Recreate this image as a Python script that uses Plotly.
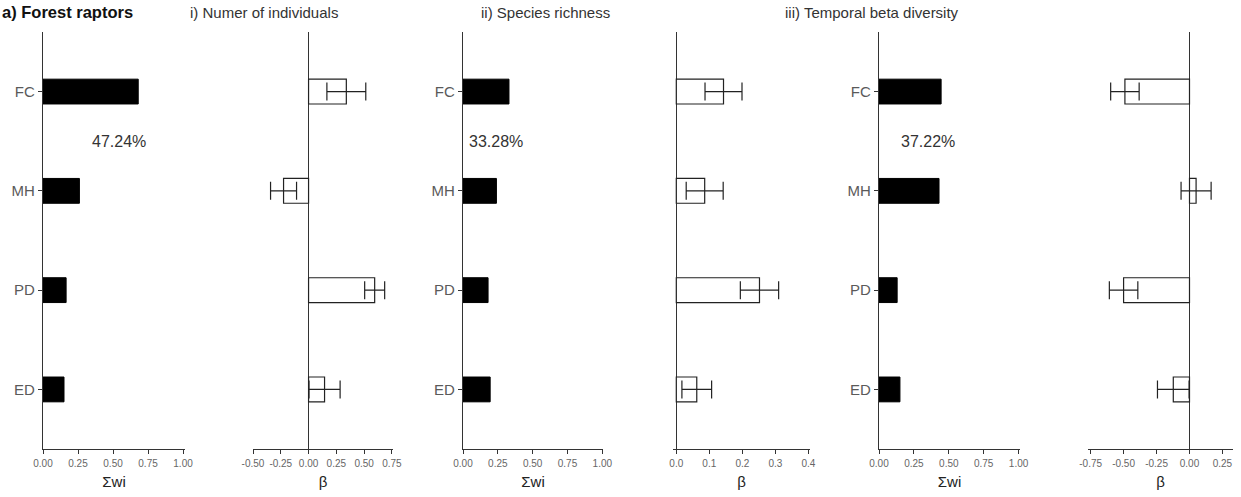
import plotly.graph_objects as go

W, H = 1241, 497

# ---- data ----
categories = ["FC", "MH", "PD", "ED"]
panel_titles = ["i) Numer of individuals", "ii) Species richness", "iii) Temporal beta diversity"]
percent_labels = ["47.24%", "33.28%", "37.22%"]

# Sum of Akaike weights (Σwi)
sw_individuals = [0.68, 0.26, 0.165, 0.15]
sw_richness = [0.33, 0.24, 0.18, 0.195]
sw_beta = [0.445, 0.43, 0.13, 0.15]

# Model-averaged coefficients (β) and their errors
beta_individuals = [0.34, -0.225, 0.595, 0.144]
err_individuals = [0.175, 0.117, 0.09, 0.14]
beta_richness = [0.143, 0.086, 0.252, 0.062]
err_richness = [0.056, 0.056, 0.058, 0.045]
beta_tbeta = [-0.49, 0.05, -0.50, -0.123]
err_tbeta = [0.108, 0.114, 0.108, 0.12]

sw_ticks = [0, 0.25, 0.5, 0.75, 1.0]
sw_ticktext = ["0.00", "0.25", "0.50", "0.75", "1.00"]
b1_ticks = [-0.5, -0.25, 0, 0.25, 0.5, 0.75]
b1_ticktext = ["-0.50", "-0.25", "0.00", "0.25", "0.50", "0.75"]
b2_ticks = [0, 0.1, 0.2, 0.3, 0.4]
b2_ticktext = ["0.0", "0.1", "0.2", "0.3", "0.4"]
b3_ticks = [-0.75, -0.5, -0.25, 0, 0.25]
b3_ticktext = ["-0.75", "-0.50", "-0.25", "0.00", "0.25"]

FONT = "Liberation Sans, Arial, sans-serif"


def fx(px):
    return px / W


def fy(py):
    return 1 - py / H


# pixel extents of panels (window coordinates)
px_domains = [(43, 185), (253, 393), (463, 603), (673, 810), (879, 1020), (1088, 1233)]
x_ranges = [[0, 1.014], [-0.5, 0.76], [0, 1.005], [-0.01, 0.405], [0, 1.01], [-0.77, 0.33]]
ydom = [fy(449), fy(32)]

fig = go.Figure()

sw_sets = [sw_individuals, sw_richness, sw_beta]
beta_sets = [(beta_individuals, err_individuals), (beta_richness, err_richness), (beta_tbeta, err_tbeta)]
ticksets = [(b1_ticks, b1_ticktext), (b2_ticks, b2_ticktext), (b3_ticks, b3_ticktext)]

for k in range(3):
    i_sw = 2 * k + 1
    i_b = 2 * k + 2
    fig.add_trace(go.Bar(
        x=sw_sets[k], y=categories, orientation="h", width=0.25,
        marker=dict(color="black", line=dict(color="black", width=1)),
        xaxis=f"x{i_sw}", yaxis=f"y{i_sw}", showlegend=False, hoverinfo="x+y"))
    b, e = beta_sets[k]
    fig.add_trace(go.Bar(
        x=b, y=categories, orientation="h", width=0.25,
        marker=dict(color="white", line=dict(color="#222", width=1.2)),
        error_x=dict(type="data", array=e, visible=True, color="#222", thickness=1.2, width=9),
        xaxis=f"x{i_b}", yaxis=f"y{i_b}", showlegend=False, hoverinfo="x+y"))

layout = dict(
    width=W, height=H, margin=dict(l=0, r=0, t=0, b=0, autoexpand=False),
    paper_bgcolor="white", plot_bgcolor="white",
    font=dict(family=FONT, color="#222"), bargap=0,
)

for n in range(1, 7):
    a, b = px_domains[n - 1]
    is_sw = (n % 2 == 1)
    if is_sw:
        tv, tt = sw_ticks, sw_ticktext
        title = "Σwi"
    else:
        tv, tt = ticksets[n // 2 - 1]
        title = "β"
    layout[f"xaxis{n}"] = dict(
        domain=[fx(a), fx(b)], range=x_ranges[n - 1], anchor=f"y{n}",
        showgrid=False, showline=True, linecolor="#333", linewidth=1.2,
        zeroline=not is_sw, zerolinecolor="#333", zerolinewidth=1.2,
        ticks="outside", ticklen=4, tickcolor="#333", ticklabelstandoff=1,
        tickvals=tv, ticktext=tt, tickfont=dict(size=10, color="#666"),
        title=dict(text=title, font=dict(size=15, color="#222"), standoff=8),
        automargin=False, fixedrange=True,
    )
    layout[f"yaxis{n}"] = dict(
        domain=ydom, anchor=f"x{n}", type="category",
        categoryorder="array", categoryarray=categories[::-1],
        range=[-0.6, 3.6], showgrid=False, zeroline=False,
        showline=is_sw, linecolor="#333", linewidth=1.2,
        ticks="outside" if is_sw else "", ticklen=4, tickcolor="#333",
        showticklabels=is_sw, tickfont=dict(size=15, color="#5a5a5a"),
        automargin=False, fixedrange=True,
    )

annotations = [
    dict(text="<b>a) Forest raptors</b>", x=0, y=fy(12), xref="paper", yref="paper",
         xanchor="left", yanchor="middle", showarrow=False, font=dict(size=16.5, color="#111")),
]
centers = [264, 545, 872]
for k in range(3):
    annotations.append(dict(text=panel_titles[k], x=fx(centers[k]), y=fy(13),
                            xref="paper", yref="paper", xanchor="center", yanchor="middle",
                            showarrow=False, font=dict(size=15, color="#333")))
pct_x = [0.54, 0.24, 0.35]
for k in range(3):
    n = 2 * k + 1
    annotations.append(dict(text=percent_labels[k], x=pct_x[k], y=2.5, xref=f"x{n}", yref=f"y{n}",
                            xanchor="center", yanchor="middle", showarrow=False,
                            font=dict(size=16, color="#333")))
layout["annotations"] = annotations

fig.update_layout(**layout)
fig.write_html(
    "out.html",
    config={"displayModeBar": False, "staticPlot": True},
    post_script="document.body.style.margin='0';document.body.style.overflow='hidden';",
)
